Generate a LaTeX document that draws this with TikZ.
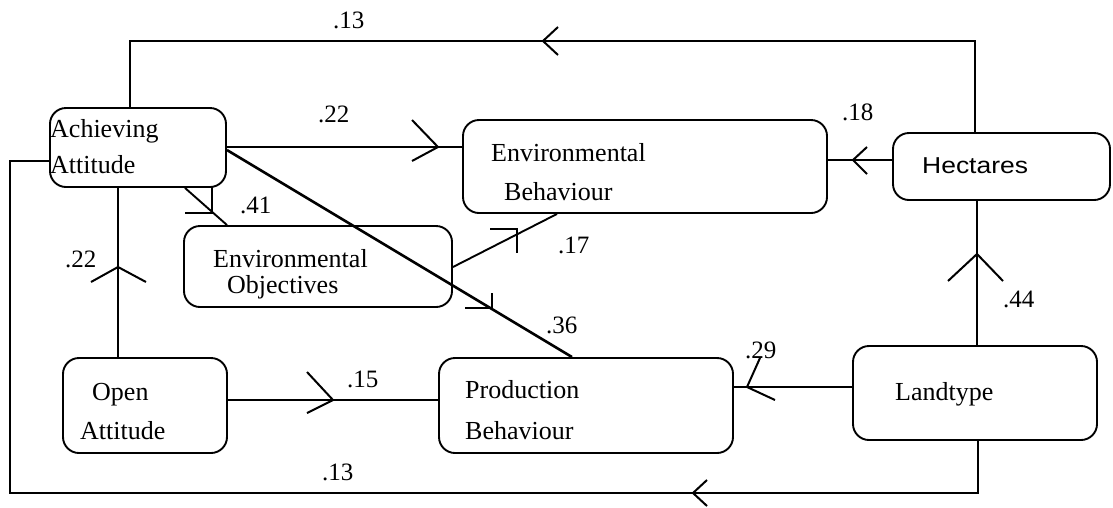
\documentclass[tikz,border=0pt]{standalone}
\usepackage{fontspec}
\setmainfont{Liberation Serif}
\newfontfamily\hecfont{Liberation Sans}
\begin{document}
\begin{tikzpicture}[x=1pt,y=-1pt,
  box/.style={draw,line width=1.9pt,rounded corners=16pt,inner sep=0pt},
  txt/.style={anchor=base west,inner sep=0pt,font=\fontsize{26}{30}\selectfont},
  lbl/.style={anchor=base west,inner sep=0pt,font=\fontsize{25}{30}\selectfont},
  link/.style={line width=1.9pt},
  heavy/.style={line width=2.6pt},
  barb/.style={line width=2pt,line join=miter}]
\useasboundingbox (0,0) rectangle (1113,507);

% boxes
\node[box,minimum width=176,minimum height=79] (aa) at (138,147.5) {};
\node[box,minimum width=364,minimum height=93] (eb) at (645,166.5) {};
\node[box,minimum width=217,minimum height=67] (he) at (1001.5,166.5) {};
\node[box,minimum width=268,minimum height=81] (eo) at (318,266.5) {};
\node[box,minimum width=164,minimum height=95] (oa) at (145,405.5) {};
\node[box,minimum width=294,minimum height=95] (pb) at (586,405.5) {};
\node[box,minimum width=244,minimum height=94] (lt) at (975,393) {};

% box texts
\node[txt] (aa1) at (50,137) {Achieving};
\node[txt] (aa2) at (50,173) {Attitude};
\node[txt] (eb1) at (491,161) {Environmental};
\node[txt] (eb2) at (504,200) {Behaviour};
\node[txt,font=\hecfont\fontsize{23}{28}\selectfont] (he1) at (922,173) {\scalebox{1.15}[1]{Hectares}};
\node[txt] (eo1) at (213,267) {Environmental};
\node[txt] (eo2) at (227,293) {Objectives};
\node[txt] (oa1) at (92,400) {Open};
\node[txt] (oa2) at (80,439) {Attitude};
\node[txt] (pb1) at (465,398) {Production};
\node[txt] (pb2) at (465,439) {Behaviour};
\node[txt] (lt1) at (895,400) {Landtype};

% loop corners
\coordinate (tl) at (130,41);
\coordinate (tr) at (975,41);
\coordinate (bl0) at (10,161);
\coordinate (bl) at (10,493);
\coordinate (br) at (978,493);

% connectors
\draw[link] (aa.north -| tl) -- (tl) -- (tr) -- (he.north -| tr);
\draw[barb] (558,27) -- (543,41) -- (558,55);

\draw[link] (aa.east |- 0,147) -- (eb.west |- 0,147);
\draw[barb] (412,120) -- (438,147) -- (412,161);

\draw[link] (he.west |- 0,160) -- (eb.east |- 0,160);
\draw[barb] (867,147) -- (853,160) -- (867,174);

\draw[link] (aa.south -| 185,0) -- (eo.north -| 227,0);
\draw[barb] (212,187) -- (212,213) -- (185,213);

\draw[link] (eo.east |- 0,267) -- (eb.south -| 557,0);
\draw[barb] (490,229) -- (517,229) -- (517,253);

\draw[heavy] (aa.east |- 0,150) -- (pb.north -| 572,0);
\draw[barb] (492,293) -- (492,308) -- (465,308);

\draw[link] (oa.north -| 118,0) -- (aa.south -| 118,0);
\draw[barb] (91,282) -- (118,267) -- (146,282);

\draw[link] (oa.east |- 0,400) -- (pb.west |- 0,400);
\draw[barb] (307,372) -- (333,400) -- (307,413);

\draw[link] (lt.west |- 0,387) -- (pb.east |- 0,387);
\draw[barb] (760,358) -- (747,387) -- (775,400);

\draw[link] (lt.north -| 977,0) -- (he.south -| 977,0);
\draw[barb] (948,281) -- (977,254) -- (1003,281);

\draw[link] (aa.west |- bl0) -- (bl0) -- (bl) -- (br) -- (lt.south -| br);
\draw[barb] (707,480) -- (693,493) -- (707,506);

% path coefficients
\node[lbl] (c1) at (333,28) {.13};
\node[lbl] (c2) at (318,122) {.22};
\node[lbl] (c3) at (240,213) {.41};
\node[lbl] (c4) at (842,120) {.18};
\node[lbl] (c5) at (558,253) {.17};
\node[lbl] (c6) at (65,267) {.22};
\node[lbl] (c7) at (546,333) {.36};
\node[lbl] (c8) at (347,387) {.15};
\node[lbl] (c9) at (745,358) {.29};
\node[lbl] (c10) at (1003,307) {.44};
\node[lbl] (c11) at (322,480) {.13};
\end{tikzpicture}
\end{document}
